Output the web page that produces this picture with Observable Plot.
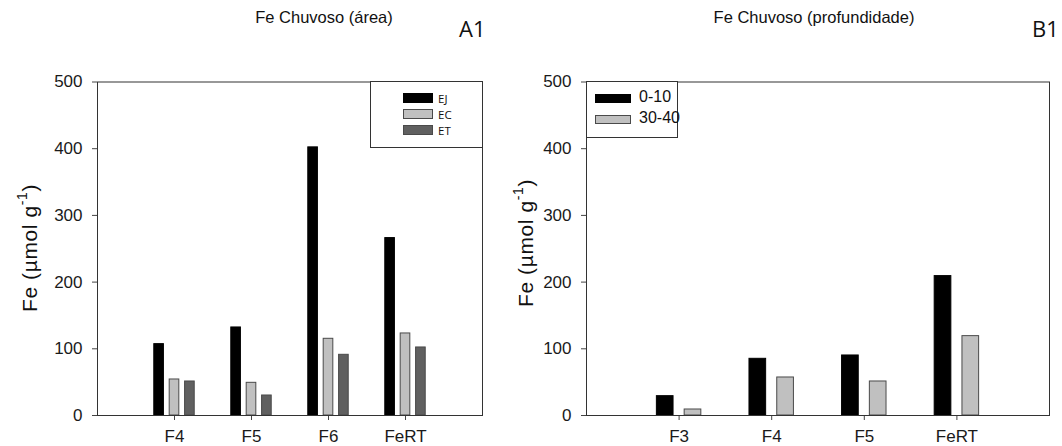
<!DOCTYPE html>
<html>
<head>
<meta charset="utf-8">
<script src="https://cdn.jsdelivr.net/npm/d3@7"></script>
<script src="https://cdn.jsdelivr.net/npm/@observablehq/plot@0.6"></script>
<style>
  html, body { margin: 0; padding: 0; background: #fff; }
  #root { position: relative; width: 1062px; height: 446px; overflow: hidden; font-family: "Liberation Sans", Arial, sans-serif; color: #111; }
  .abs { position: absolute; }
  .title { font-size: 16.5px; white-space: nowrap; transform: translateX(-50%); line-height: 20px; }
  .panel { font-family: "Open Sans", "Liberation Sans", sans-serif; font-size: 22px; white-space: nowrap; line-height: 26px; }
  .ylab { font-size: 21px; letter-spacing: 0.6px; white-space: nowrap; transform: translate(-50%, -50%) rotate(-90deg); line-height: 24px; }
  .ylab sup { font-size: 14px; vertical-align: 10px; line-height: 0; }
  .legend { border: 1px solid #333; background: #fff; box-sizing: border-box; }
  .sw { position: absolute; box-sizing: border-box; border: 1px solid #444; }
  .lt { position: absolute; white-space: nowrap; }
</style>
</head>
<body>
<div id="root"></div>
<script>
// ---- data ----
const catsA = ["F4", "F5", "F6", "FeRT"];
const seriesA = ["EJ", "EC", "ET"];
const valuesEJ = [107, 132, 402, 266];
const valuesEC = [54, 49, 115, 123];
const valuesET = [51, 30, 91, 102];

const catsB = ["F3", "F4", "F5", "FeRT"];
const seriesB = ["0-10", "30-40"];
const values0_10 = [29, 85, 90, 209];
const values30_40 = [9, 57, 51, 119];

const yTicks = [0, 100, 200, 300, 400, 500];

// ---- build tables ----
function rows(cats, series, lists) {
  const out = [];
  cats.forEach((c, i) => series.forEach((s, si) => out.push({cat: c, i, series: s, si, value: lists[si][i]})));
  return out;
}
const rowsA = rows(catsA, seriesA, [valuesEJ, valuesEC, valuesET]);
const rowsB = rows(catsB, seriesB, [values0_10, values30_40]);

const colorsA = ["#000000", "#c0c0c0", "#606060"];
const colorsB = ["#000000", "#c0c0c0"];

function panel(rowsData, cats, series, colors, offsets, bw, opts) {
  return Plot.plot({
    width: 531,
    height: 446,
    marginTop: 81.5,
    marginBottom: 31,
    marginLeft: opts.marginLeft,
    marginRight: opts.marginRight,
    style: {fontFamily: "'Liberation Sans', Arial, sans-serif", fontSize: "17px", color: "#1a1a1a", background: "transparent", overflow: "visible"},
    x: {domain: [0, 5]},
    y: {domain: [0, 500]},
    color: {domain: series, range: colors},
    marks: [
      Plot.rectY(rowsData, {
        x1: d => d.i + 1 + offsets[d.si] - bw / 2,
        x2: d => d.i + 1 + offsets[d.si] + bw / 2,
        y: "value",
        fill: "series",
        stroke: d => d.si === 0 ? "#000" : "#4a4a4a",
        strokeWidth: 1
      }),
      Plot.axisX({ticks: [1, 2, 3, 4], tickFormat: v => cats[v - 1], tickSize: 5, tickPadding: 9, fontSize: 17, label: null, stroke: "#444"}),
      Plot.axisY({ticks: yTicks, tickSize: 5, tickPadding: 10, fontSize: 17, label: null, stroke: "#444"}),
      Plot.frame({stroke: "#333", strokeWidth: 1})
    ]
  });
}

const root = document.getElementById("root");

const chartA = panel(rowsA, catsA, seriesA, colorsA, [-0.2, 0, 0.2], 0.125, {marginLeft: 97, marginRight: 49});
chartA.style.position = "absolute"; chartA.style.left = "0px"; chartA.style.top = "0px";
root.appendChild(chartA);

const chartB = panel(rowsB, catsB, seriesB, colorsB, [-0.15, 0.15], 0.18, {marginLeft: 55, marginRight: 13});
chartB.style.position = "absolute"; chartB.style.left = "531px"; chartB.style.top = "0px";
root.appendChild(chartB);

function el(html, cls, css, parent) {
  const d = document.createElement("div");
  d.className = cls;
  d.innerHTML = html;
  Object.assign(d.style, css);
  (parent || root).appendChild(d);
  return d;
}

// titles
el("Fe Chuvoso (área)", "abs title", {left: "324px", top: "7px"});
el("Fe Chuvoso (profundidade)", "abs title", {left: "814px", top: "7px"});

// panel labels
el("A1", "abs panel", {left: "459px", top: "15px"});
el("B1", "abs panel", {left: "1032px", top: "15px"});

// y-axis titles
el("Fe (µmol g<sup>-1</sup>)", "abs ylab", {left: "30px", top: "248px"});
el("Fe (µmol g<sup>-1</sup>)", "abs ylab", {left: "526px", top: "243px"});

// legend A
const legA = el("", "abs legend", {left: "370px", top: "81px", width: "113px", height: "67px"});
seriesA.forEach((s, k) => {
  el("", "sw", {left: "32px", top: (11 + k * 16) + "px", width: "30px", height: "10px", background: colorsA[k], borderColor: k === 0 ? "#000" : "#4a4a4a"}, legA);
  el(s, "lt", {left: "67px", top: (9 + k * 16) + "px", fontSize: "11.5px", fontFamily: "'Open Sans', sans-serif"}, legA);
});

// legend B
const legB = el("", "abs legend", {left: "586px", top: "81px", width: "92px", height: "57px"});
seriesB.forEach((s, k) => {
  el("", "sw", {left: "8px", top: (12 + k * 21) + "px", width: "36px", height: "9px", background: colorsB[k], borderColor: k === 0 ? "#000" : "#4a4a4a"}, legB);
  el(s, "lt", {left: "52px", top: (6 + k * 21) + "px", fontSize: "16px"}, legB);
});
</script>
</body>
</html>
